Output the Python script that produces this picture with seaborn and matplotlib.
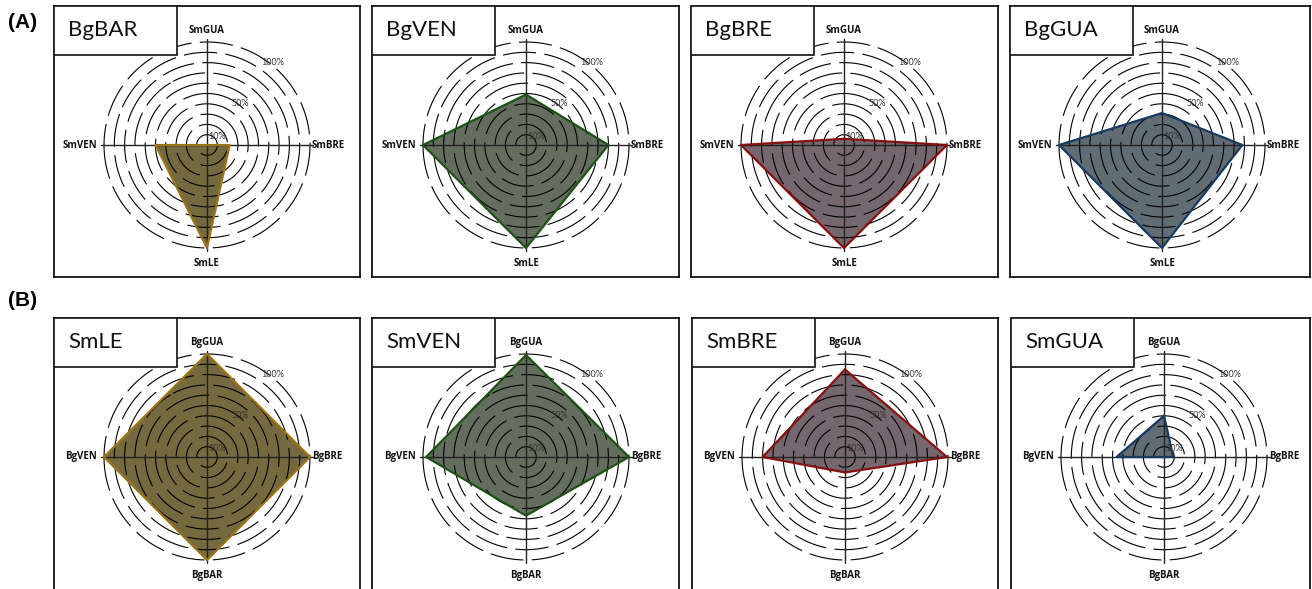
import numpy as np
import pandas as pd
import matplotlib
matplotlib.use('Agg')
import matplotlib.pyplot as plt
import seaborn as sns
from matplotlib.patches import Rectangle

# Data: values in % along (top, right, bottom, left)
row_a_titles = ['BgBAR', 'BgVEN', 'BgBRE', 'BgGUA']
row_a_axes = ['SmGUA', 'SmBRE', 'SmLE', 'SmVEN']
bgbar = [0, 22, 100, 50]
bgven = [49, 80, 100, 100]
bgbre = [6, 100, 100, 100]
bggua = [31, 78, 100, 100]

row_b_titles = ['SmLE', 'SmVEN', 'SmBRE', 'SmGUA']
row_b_axes = ['BgGUA', 'BgBRE', 'BgBAR', 'BgVEN']
smle = [100, 100, 100, 100]
smven = [99, 100, 57, 97]
smbre = [85, 99, 15, 80]
smgua = [40, 9, 0, 46]

ring_levels = [10, 20, 30, 40, 50, 60, 70, 80, 90, 100]
pct_labels = ['10%', '50%', '100%']

fills = ['#75693f', '#636e5e', '#74676e', '#616d75']
edges = ['#9a7418', '#1e5214', '#861010', '#173a5e']

sns.set_theme(style='white')
plt.rcParams['font.family'] = ['Lato', 'DejaVu Sans']
plt.rcParams['lines.scale_dashes'] = False
plt.rcParams['text.color'] = 'black'

W, H = 1312, 589
fig = plt.figure(figsize=(W / 100, H / 100), dpi=100)
fig.patch.set_facecolor('white')

S = 103.0  # pixels per 100%

panels = []
a_left = [54, 372, 691, 1010]
a_right = [360, 679, 998, 1310]
a_cx = [207, 526, 844, 1162]
b_left = [54, 372, 692, 1011]
b_right = [360, 679, 998, 1310]
b_cx = [207, 526, 845, 1164]
a_vals = [bgbar, bgven, bgbre, bggua]
b_vals = [smle, smven, smbre, smgua]
for i in range(4):
    panels.append((a_left[i], 6, a_right[i], 277, a_cx[i], 145,
                   row_a_titles[i], row_a_axes, a_vals[i], i))
for i in range(4):
    panels.append((b_left[i], 318, b_right[i], 593, b_cx[i], 457,
                   row_b_titles[i], row_b_axes, b_vals[i], i))

theta = np.linspace(0, 2 * np.pi, 400)

for (L, T, R, B, cx, cy, title, axes_names, vals, ci) in panels:
    ax = fig.add_axes([L / W, 1 - B / H, (R - L) / W, (B - T) / H])
    ax.set_xlim((L - cx) / S, (R - cx) / S)
    ax.set_ylim(-(B - cy) / S, (cy - T) / S)
    ax.set_xticks([])
    ax.set_yticks([])
    for sp in ax.spines.values():
        sp.set_color('#111111')
        sp.set_linewidth(1.3)

    # polygon
    v = np.array(vals) / 100.0
    df = pd.DataFrame({'x': [0, v[1], 0, -v[3], 0],
                       'y': [v[0], 0, -v[2], 0, v[0]]})
    ax.fill(df['x'], df['y'], color=fills[ci], zorder=1, lw=0)

    # dashed rings
    for k, lev in enumerate(ring_levels):
        r = lev / 100.0
        ax.plot(r * np.cos(theta + 0.35 * k), r * np.sin(theta + 0.35 * k),
                color='black', lw=0.8, zorder=2,
                linestyle=(0, (24, 6)))

    # axis cross
    ax.plot([-1.03, 1.03], [0, 0], color='#222222', lw=1.0, zorder=3)
    ax.plot([0, 0], [-1.03, 1.03], color='#222222', lw=1.0, zorder=3)

    sns.lineplot(data=df, x='x', y='y', sort=False, estimator=None,
                 color=edges[ci], lw=1.6, ax=ax, zorder=4)
    ax.set_xlabel('')
    ax.set_ylabel('')

    # percent labels
    ax.text(0.01, 0.04, pct_labels[0], fontsize=6.5, color='#333333',
            ha='left', va='bottom', zorder=5)
    ax.text(0.32, 0.40, pct_labels[1], fontsize=6.5, color='#333333',
            ha='center', va='center', zorder=5)
    ax.text(0.64, 0.80, pct_labels[2], fontsize=6.5, color='#333333',
            ha='center', va='center', zorder=5)

    # axis names
    kw = dict(fontsize=7, fontweight='bold', color='#111111', zorder=5,
              family=['Open Sans', 'DejaVu Sans'])
    ax.text(0, 1.11, axes_names[0], ha='center', va='center', **kw)
    ax.text(1.02, 0, axes_names[1], ha='left', va='center', **kw)
    ax.text(0, -1.15, axes_names[2], ha='center', va='center', **kw)
    ax.text(-1.07, 0, axes_names[3], ha='right', va='center', **kw)

    # title box
    x0 = (L - cx) / S
    y1 = (cy - T) / S
    bw, bh = 123 / S, 49 / S
    ax.add_patch(Rectangle((x0, y1 - bh), bw, bh, facecolor='white',
                           edgecolor='#111111', lw=1.2, zorder=6))
    ax.text(x0 + 14 / S, y1 - bh / 2, title, fontsize=16, color='#111111',
            ha='left', va='center', zorder=7)

fig.text(8 / W, 1 - 22 / H, '(A)', fontsize=15, fontweight='bold',
         family=['Liberation Sans', 'DejaVu Sans'], ha='left', va='center',
         color='black')
fig.text(8 / W, 1 - 300 / H, '(B)', fontsize=15, fontweight='bold',
         family=['Liberation Sans', 'DejaVu Sans'], ha='left', va='center',
         color='black')

fig.savefig('out.png', dpi=100)
